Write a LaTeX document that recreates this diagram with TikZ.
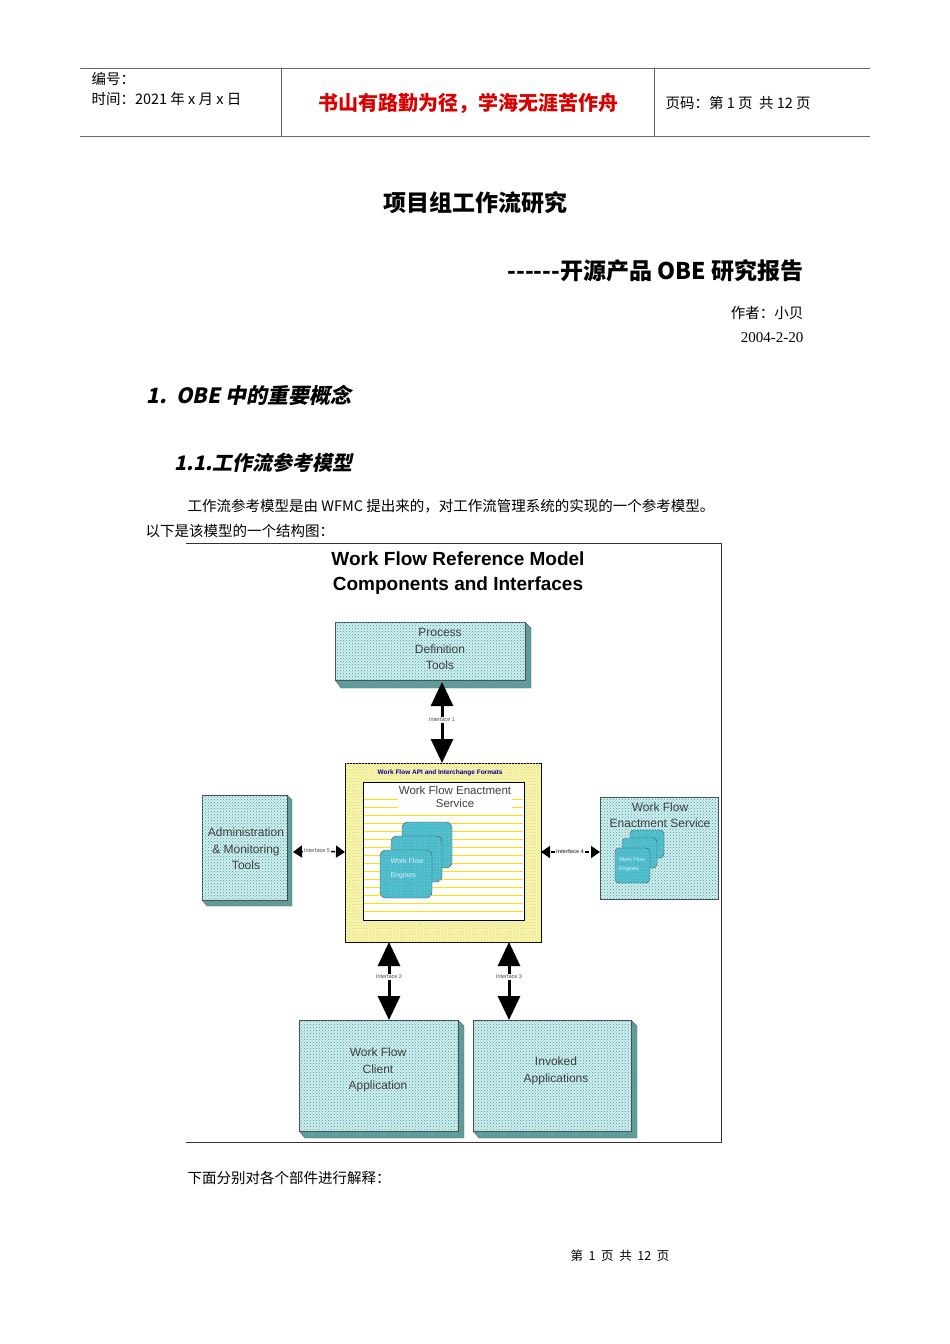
\documentclass[tikz,border=0pt]{standalone}
\usepackage{fontspec}
\setmainfont{Liberation Serif}
\newfontfamily\cjk{Noto Sans CJK SC}
\newfontfamily\cjki[FakeSlant=0.2]{Noto Sans CJK SC}
\newfontfamily\dsans{Liberation Sans}
\usetikzlibrary{patterns,arrows.meta}
\definecolor{boxc}{HTML}{CFF0F0}
\definecolor{dotc}{HTML}{4F98A0}
\definecolor{shad}{HTML}{5E9C9C}
\definecolor{engc}{HTML}{3DBFD0}
\definecolor{yel}{HTML}{FAF6A8}
\begin{document}
\begin{tikzpicture}[x=1pt,y=-1pt,
  box/.style={draw=black!70,fill=boxc,postaction={pattern=crosshatch dots,pattern color=dotc}},
  sh/.style={fill=shad,draw=black!60},
  dt/.style={font=\dsans\fontsize{12}{16.5}\selectfont,align=center,text=black!75},
  lab/.style={font=\dsans\fontsize{5.5}{6}\selectfont,inner sep=1pt,text=black!70},
  big/.style={line width=3pt,-{Triangle[length=24pt,width=22pt]}},
  sm/.style={line width=1.5pt,-{Triangle[length=9pt,width=12pt]}},
  eng/.style={draw=black!70,fill=engc,rounded corners=6pt,postaction={pattern=crosshatch dots,pattern color=black!30}}]
\useasboundingbox (0,0) rectangle (950,1344);
% header
\draw[black!60,line width=0.8pt] (80,68) -- (870,68) (80,136) -- (870,136) (281,68) -- (281,136) (654,68) -- (654,136);
\node[anchor=west,font=\cjk\fontsize{14.5}{16}\selectfont] (h1) at (88,79) {编号：};
\node[anchor=west,font=\cjk\fontsize{14.5}{16}\selectfont] (h2) at (88,99) {时间：2021 年 x 月 x 日};
\node[font=\cjk\bfseries\fontsize{20}{22}\selectfont,text=red!85!black] (h3) at (468,103) {书山有路勤为径，学海无涯苦作舟};
\node[anchor=west,font=\cjk\fontsize{14.5}{16}\selectfont] (h4) at (662,103) {页码：第 1 页\ \ 共 12 页};
% titles
\node[font=\cjk\bfseries\fontsize{23}{26}\selectfont] (t1) at (475,203) {项目组工作流研究};
\node[anchor=east,font=\cjk\bfseries\fontsize{23}{26}\selectfont] (t2) at (807,271) {------开源产品 OBE 研究报告};
\node[anchor=east,font=\cjk\fontsize{14.5}{16}\selectfont] (t3) at (807,313) {作者：小贝};
\node[anchor=east,font=\fontsize{15}{17}\selectfont] (t4) at (807,338) {2004-2-20};
\node[anchor=west,font=\cjki\bfseries\fontsize{21}{24}\selectfont] (s1) at (143,395) {1.\ \ OBE 中的重要概念};
\node[anchor=west,font=\cjki\bfseries\fontsize{20}{23}\selectfont] (s2) at (171,463) {1.1.工作流参考模型};
\node[anchor=west,font=\cjk\fontsize{14.5}{17}\selectfont] (p1) at (184,506) {工作流参考模型是由 WFMC 提出来的，对工作流管理系统的实现的一个参考模型。};
\node[anchor=west,font=\cjk\fontsize{14.5}{17}\selectfont] (p2) at (142,531) {以下是该模型的一个结构图：};
% diagram frame
\draw[black!80,line width=0.8pt] (186,543) -- (721,543) -- (721,1142) -- (186,1142);
\node[font=\dsans\bfseries\fontsize{19}{25}\selectfont,align=center] (dt) at (458,573) {Work Flow Reference Model\\Components and Interfaces};
% process definition
\fill[sh] (525,622) -- (531,628) -- (531,688) -- (341,688) -- (335,680) -- (525,680) -- cycle;
\path[box] (335,622) rectangle (525,680);
\node[dt] (pdt) at (440,649) {Process\\Definition\\Tools};
\coordinate (pdb) at (442,682);
% yellow box
\path[draw=black,line width=1pt,fill=yel,postaction={pattern=crosshatch dots,pattern color=yellow!60!black!40}] (345,763) rectangle (541,942);
\node[font=\dsans\bfseries\fontsize{6.5}{7}\selectfont,text=blue!60!black] (api) at (440,773) {Work Flow API and Interchange Formats};
\fill[white] (363,782) rectangle (524,920);
\foreach \y in {799,807,...,918} \draw[yellow!85!orange,line width=0.8pt] (364,\y) -- (523,\y);
\draw[black,line width=0.8pt] (363,782) rectangle (524,920);
\node[dt,fill=white,inner sep=1pt,font=\dsans\fontsize{11.5}{13}\selectfont] (wes) at (455,797) {Work Flow Enactment\\Service};
\draw[eng] (402,822) rectangle (452,868);
\draw[eng] (391,836) rectangle (442,882);
\draw[eng] (380,850) rectangle (432,898);
\node[font=\dsans\fontsize{7}{14}\selectfont,text=white!85!cyan,align=left] (we) at (407,869) {Work Flow\\Engines};
\coordinate (ytop) at (442,763);
\coordinate (yb2) at (389,942);
\coordinate (yb3) at (509,942);
\coordinate (yl) at (345,852);
\coordinate (yr) at (541,852);
% admin
\fill[sh] (287,795) -- (292,800) -- (292,906) -- (207,906) -- (202,900) -- (287,900) -- cycle;
\path[box] (202,795) rectangle (287,900);
\node[dt] (adm) at (246,849) {Administration\\\& Monitoring\\Tools};
\coordinate (admr) at (293,852);
% right service
\path[box] (600,797) rectangle (718,899);
\node[dt] (rws) at (660,815) {Work Flow\\Enactment Service};
\draw[eng,rounded corners=4pt] (630,830) rectangle (664,858);
\draw[eng,rounded corners=4pt] (622,838) rectangle (657,868);
\draw[eng,rounded corners=4pt] (615,848) rectangle (650,883);
\node[font=\dsans\fontsize{5.5}{9}\selectfont,text=white!85!cyan,align=left] (re) at (632,865) {Work Flow\\Engines};
\coordinate (rl) at (600,852);
% client
\fill[sh] (458,1020) -- (464,1026) -- (464,1138) -- (305,1138) -- (299,1131) -- (458,1131) -- cycle;
\path[box] (299,1020) rectangle (458,1131);
\node[dt] (cl) at (378,1070) {Work Flow\\Client\\Application};
\fill[sh] (631,1020) -- (637,1026) -- (637,1138) -- (479,1138) -- (473,1131) -- (631,1131) -- cycle;
\path[box] (473,1020) rectangle (631,1131);
\node[dt] (inv) at (556,1071) {Invoked\\Applications};
\coordinate (clt) at (389,1020);
\coordinate (invt) at (509,1020);
% interfaces
\node[lab] (i1) at (442,720) {Interface 1};
\draw[big] (i1) -- (pdb);
\draw[big] (i1) -- (ytop);
\node[lab] (i2) at (389,977) {Interface 2};
\draw[big] (i2) -- (yb2);
\draw[big] (i2) -- (clt);
\node[lab] (i3) at (509,977) {Interface 3};
\draw[big] (i3) -- (yb3);
\draw[big] (i3) -- (invt);
\node[lab,fill=white] (i5) at (317,851) {Interface 5};
\draw[sm,dash pattern=on 4pt off 3pt] (i5) -- (admr);
\draw[sm,dash pattern=on 4pt off 3pt] (i5) -- (yl);
\node[lab,fill=white,font=\dsans\bfseries\fontsize{5.5}{6}\selectfont] (i4) at (570,852) {Interface 4};
\draw[sm,dash pattern=on 4pt off 3pt] (i4) -- (yr);
\draw[sm,dash pattern=on 4pt off 3pt] (i4) -- (rl);
% after
\node[anchor=west,font=\cjk\fontsize{14.5}{17}\selectfont] (p3) at (184,1178) {下面分别对各个部件进行解释：};
\node[font=\cjk\fontsize{12.5}{14}\selectfont] (ft) at (620,1256) {第\ \ 1\ \ 页\ \ 共\ \ 12\ \ 页};
\end{tikzpicture}
\end{document}
